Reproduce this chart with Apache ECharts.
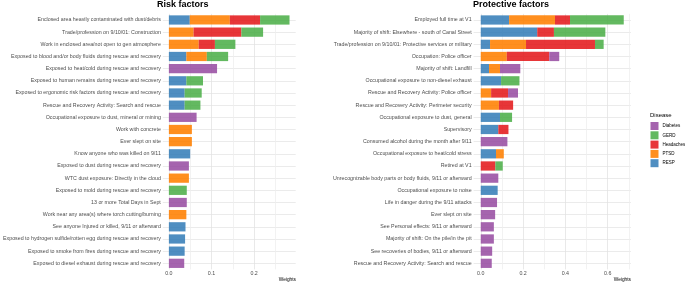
<!DOCTYPE html>
<html>
<head>
<meta charset="utf-8">
<script src="https://cdn.jsdelivr.net/npm/echarts@6/dist/echarts.min.js"></script>
<style>
  html, body { margin: 0; padding: 0; background: #fff; }
  #chart { width: 685px; height: 283px; }
</style>
</head>
<body>
<div id="chart"></div>
<script>
// risk factors (left panel), top to bottom
const riskLabels = [
  'Enclosed area heavily contaminated with dust/debris',
  'Trade/profession on 9/10/01: Construction',
  'Work in enclosed area/not open to gen atmosphere',
  'Exposed to blood and/or body fluids during rescue and recovery',
  'Exposed to heat/cold during rescue and recovery',
  'Exposed to human remains during rescue and recovery',
  'Exposed to ergonomic risk factors during rescue and recovery',
  'Rescue and Recovery Activity: Search and rescue',
  'Occupational exposure to dust, mineral or mining',
  'Work with concrete',
  'Ever slept on site',
  'Know anyone who was killed on 9/11',
  'Exposed to dust during rescue and recovery',
  'WTC dust exposure: Directly in the cloud',
  'Exposed to mold during rescue and recovery',
  '13 or more Total Days in Sept',
  'Work near any area(s) where torch cutting/burning',
  'See anyone Injured or killed, 9/11 or afterward',
  'Exposed to hydrogen sulfide/rotten egg during rescue and recovery',
  'Exposed to smoke from fires during rescue and recovery',
  'Exposed to diesel exhaust during rescue and recovery'
]
const riskRESP      = [0.049, 0, 0, 0.041, 0, 0.041, 0.037, 0.037, 0, 0, 0, 0.050, 0, 0, 0, 0, 0, 0.039, 0.038, 0.037, 0]
const riskPTSD      = [0.094, 0.058, 0.070, 0.048, 0, 0, 0, 0, 0, 0.054, 0.054, 0, 0, 0.047, 0, 0, 0.041, 0, 0, 0, 0]
const riskHeadaches = [0.071, 0.112, 0.038, 0, 0, 0, 0, 0, 0, 0, 0, 0, 0, 0, 0, 0, 0, 0, 0, 0, 0]
const riskGERD      = [0.069, 0.051, 0.048, 0.050, 0, 0.039, 0.040, 0.037, 0, 0, 0, 0, 0, 0, 0.042, 0, 0, 0, 0, 0, 0]
const riskDiabetes  = [0, 0, 0, 0, 0.113, 0, 0, 0, 0.065, 0, 0, 0, 0.047, 0, 0, 0.042, 0, 0, 0, 0, 0.036]

// protective factors (right panel)
const protLabels = [
  'Employed full time at V1',
  'Majority of shift: Elsewhere - south of Canal Street',
  'Trade/profession on 9/10/01: Protective services or military',
  'Occupation: Police officer',
  'Majority of shift: Landfill',
  'Occupational exposure to non-diesel exhaust',
  'Rescue and Recovery Activity: Police officer',
  'Rescue and Recovery Activity: Perimeter security',
  'Occupational exposure to dust, general',
  'Supervisory',
  'Consumed alcohol during the month after 9/11',
  'Occupational exposure to heat/cold stress',
  'Retired at V1',
  'Unrecognizable body parts or body fluids, 9/11 or afterward',
  'Occupational exposure to noise',
  'Life in danger during the 9/11 attacks',
  'Ever slept on site',
  'See Personal effects: 9/11 or afterward',
  'Majority of shift: On the pile/in the pit',
  'See recoveries of bodies, 9/11 or afterward',
  'Rescue and Recovery Activity: Search and rescue'
]
const protRESP      = [0.134, 0.267, 0.044, 0, 0.039, 0.096, 0, 0, 0.091, 0.083, 0, 0.072, 0, 0, 0.080, 0, 0, 0, 0, 0, 0]
const protPTSD      = [0.217, 0, 0.170, 0.123, 0.052, 0, 0.049, 0.086, 0, 0, 0, 0.037, 0, 0, 0, 0, 0, 0, 0, 0, 0]
const protHeadaches = [0.071, 0.079, 0.326, 0.201, 0, 0, 0.080, 0.067, 0, 0.048, 0, 0, 0.069, 0, 0, 0, 0, 0, 0, 0, 0]
const protGERD      = [0.254, 0.243, 0.041, 0, 0, 0.087, 0, 0, 0.057, 0, 0, 0, 0.035, 0, 0, 0, 0, 0, 0, 0, 0]
const protDiabetes  = [0, 0, 0, 0.047, 0.096, 0, 0.047, 0, 0, 0, 0.126, 0, 0, 0.083, 0, 0.077, 0.068, 0.062, 0.062, 0.054, 0.052]

const diseases = ['Diabetes', 'GERD', 'Headaches', 'PTSD', 'RESP']
const riskTicks = [0, 0.05, 0.1, 0.15, 0.2, 0.25]
const riskTickLabels = [0, 0.1, 0.2]
const protTicks = [0, 0.1, 0.2, 0.3, 0.4, 0.5, 0.6, 0.7]
const protTickLabels = [0, 0.2, 0.4, 0.6]

const colors = {
  Diabetes: '#984EA3',
  GERD: '#4DAF4A',
  Headaches: '#E41A1C',
  PTSD: '#FF7F00',
  RESP: '#377EB8'
}

const font = 'Liberation Sans, Arial, sans-serif'
const grey = '#4d4d4d'

function xAxisOf (gridIndex, min, max, ticks, labels) {
  return {
    type: 'value', gridIndex: gridIndex, min: min, max: max,
    axisLine: { show: false },
    axisTick: { show: false, customValues: ticks },
    axisLabel: {
      customValues: labels, fontSize: 5.3, color: grey, margin: 2, fontFamily: font,
      formatter: (v) => v.toFixed(1)
    },
    splitLine: { show: true, lineStyle: { color: ['#e3e3e3', '#efefef'], width: 0.8 } }
  }
}

function yAxisOf (gridIndex, labels) {
  return {
    type: 'category', gridIndex: gridIndex, data: labels, inverse: true,
    axisLine: { show: false },
    axisTick: { show: false },
    axisLabel: { fontSize: 5.3, color: grey, margin: 2, fontFamily: font },
    splitLine: { show: true, alignWithLabel: true, lineStyle: { color: '#e6e6e6', width: 0.8 } }
  }
}

function seriesOf (axisIndex, stack, lists) {
  // stacking order: RESP, PTSD, Headaches, GERD, Diabetes
  const order = ['RESP', 'PTSD', 'Headaches', 'GERD', 'Diabetes']
  return order.map((name) => ({
    name: name, type: 'bar', stack: stack,
    xAxisIndex: axisIndex, yAxisIndex: axisIndex,
    barCategoryGap: '24%',
    itemStyle: { color: colors[name], opacity: 0.88 },
    emphasis: { disabled: true },
    data: lists[name]
  }))
}

const chart = echarts.init(document.getElementById('chart'), null, { renderer: 'canvas' })
chart.setOption({
  animation: false,
  color: diseases.map((d) => colors[d]),
  title: [
    { text: 'Risk factors', left: 157, top: 0.5, padding: 0,
      textStyle: { fontSize: 9, fontWeight: 'bold', color: '#000', fontFamily: font } },
    { text: 'Protective factors', left: 473, top: 0.5, padding: 0,
      textStyle: { fontSize: 9, fontWeight: 'bold', color: '#000', fontFamily: font } },
    { text: 'Weights', right: 389, top: 277, padding: 0,
      textStyle: { fontSize: 4.8, fontWeight: 'normal', color: '#000', fontFamily: font } },
    { text: 'Weights', right: 54, top: 277, padding: 0,
      textStyle: { fontSize: 4.8, fontWeight: 'normal', color: '#000', fontFamily: font } },
    { text: 'Disease', left: 650, top: 112, padding: 0,
      textStyle: { fontSize: 6, fontWeight: 'normal', color: '#000', fontFamily: font } }
  ],
  legend: {
    data: diseases, orient: 'vertical', left: 650.5, top: 122, padding: 0,
    icon: 'rect', itemWidth: 8, itemHeight: 8, itemGap: 1.3,
    selectedMode: false,
    textStyle: { fontSize: 4.5, color: '#000', fontFamily: font, padding: [0, 0, 0, -1] }
  },
  grid: [
    { left: 157.7, right: 389.3, top: 13.9, bottom: 13.6 },
    { left: 473.6, right: 54.1, top: 13.9, bottom: 13.6 }
  ],
  xAxis: [
    xAxisOf(0, -0.0142, 0.2975, riskTicks, riskTickLabels),
    xAxisOf(1, -0.0338, 0.7098, protTicks, protTickLabels)
  ],
  yAxis: [
    yAxisOf(0, riskLabels),
    yAxisOf(1, protLabels)
  ],
  series: [
    ...seriesOf(0, 'risk', { RESP: riskRESP, PTSD: riskPTSD, Headaches: riskHeadaches, GERD: riskGERD, Diabetes: riskDiabetes }),
    ...seriesOf(1, 'prot', { RESP: protRESP, PTSD: protPTSD, Headaches: protHeadaches, GERD: protGERD, Diabetes: protDiabetes })
  ]
})
</script>
</body>
</html>
